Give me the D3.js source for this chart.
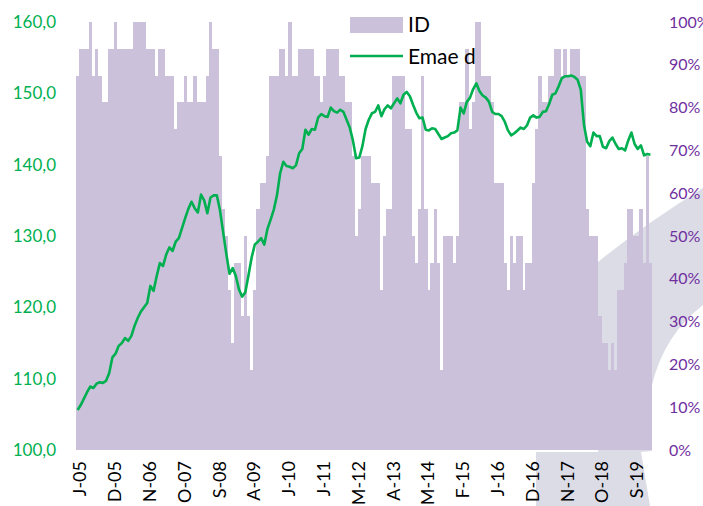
<!DOCTYPE html>
<html><head><meta charset="utf-8">
<script src="https://cdn.jsdelivr.net/npm/d3@7"></script>
<style>html,body{margin:0;padding:0;background:#fff;}svg{display:block;}</style>
</head><body>
<svg id="chart" width="703" height="506"></svg>
<script>
// ---- data ----
const startYear = 2005, startMonth = 0, monthCount = 182;
const tickLabels = ["J-05","D-05","N-06","O-07","S-08","A-09","J-10","J-11","M-12","A-13","M-14","F-15","J-16","D-16","N-17","O-18","S-19"];
const tickEvery = 11;
// ID (diffusion index, %)
const idValues = [
87.5,93.75,93.75,93.75,100,87.5,93.75,87.5,81.25,81.25,
93.75,93.75,100,93.75,93.75,93.75,93.75,93.75,100,100,
100,100,93.75,93.75,93.75,87.5,93.75,93.75,87.5,87.5,
87.5,75,81.25,81.25,87.5,81.25,81.25,87.5,81.25,81.25,
81.25,87.5,100,93.75,93.75,68.75,56.25,50,37.5,25,
43.75,43.75,31.25,50,31.25,18.75,37.5,56.25,62.5,62.5,
68.75,87.5,87.5,87.5,93.75,93.75,87.5,100,87.5,87.5,
93.75,93.75,93.75,93.75,93.75,87.5,87.5,81.25,87.5,93.75,
93.75,93.75,93.75,87.5,87.5,81.25,81.25,68.75,50,56.25,
68.75,68.75,68.75,62.5,62.5,62.5,37.5,50,56.25,56.25,
87.5,87.5,87.5,87.5,75,75,50,43.75,56.25,87.5,
56.25,37.5,43.75,56.25,43.75,18.75,50,50,50,43.75,
50,81.25,81.25,93.75,75,81.25,100,100,87.5,87.5,
87.5,81.25,62.5,62.5,62.5,43.75,37.5,50,43.75,50,
50,37.5,43.75,43.75,62.5,75,87.5,81.25,81.25,87.5,
87.5,93.75,93.75,87.5,93.75,87.5,93.75,93.75,93.75,87.5,
87.5,56.25,50,50,50,31.25,25,25,18.75,25,
18.75,37.5,37.5,43.75,56.25,56.25,50,50,56.25,43.75,
68.75,43.75];
// Emae d (index)
const emaeValues = [
105.6,106.3,107.2,108.1,108.9,108.7,109.3,109.5,109.4,109.7,
110.8,113.0,113.5,114.6,115.0,115.7,115.3,116.0,117.4,118.5,
119.4,120.0,120.6,123.0,122.3,124.4,126.2,125.8,127.4,128.4,
127.9,129.2,129.7,131.1,132.5,133.8,134.8,133.9,133.3,135.8,
135.0,133.2,135.4,135.7,135.7,133.6,130.5,127.5,124.7,125.5,
124.4,122.5,121.5,122.1,124.5,127.0,128.8,129.2,129.7,128.8,
131.0,132.3,133.7,135.7,138.8,140.4,139.8,139.7,139.5,139.9,
141.6,142.2,144.9,144.2,145.0,144.9,146.6,147.1,146.8,146.7,
148.0,147.5,147.3,147.7,147.4,146.3,145.2,143.4,140.9,141.0,
142.6,145.0,146.3,147.2,147.4,148.3,146.8,147.8,148.3,147.9,
148.6,149.3,148.6,149.8,150.2,149.6,148.4,147.3,146.5,146.6,
144.9,144.8,145.1,145.0,144.3,143.6,143.8,144.0,144.4,144.5,
144.8,148.0,147.2,148.8,149.4,150.6,151.4,150.3,149.7,149.4,
148.8,147.4,147.1,147.1,146.8,146.0,144.8,144.1,144.4,144.8,
145.2,145.0,145.5,146.6,146.9,146.6,146.7,147.4,147.5,148.5,
149.8,150.0,151.0,152.1,152.4,152.4,152.5,152.3,151.9,150.5,
145.6,143.2,142.6,144.5,144.0,144.0,142.5,142.3,143.3,143.8,
142.9,142.2,142.3,142.0,143.4,144.5,142.9,142.2,142.7,141.3,
141.5,141.4];
const leftTicks = [100,110,120,130,140,150,160];
const rightTicks = [0,10,20,30,40,50,60,70,80,90,100];
const seriesNames = ["ID","Emae d"];

// ---- build ----
const months = d3.range(monthCount).map(i => {
  const d = new Date(startYear, startMonth + i, 1);
  return d3.timeFormat("%Y-%m")(d);
});
const svg = d3.select("#chart");
const x = d3.scaleBand().domain(months).range([76, 652]).padding(0);
const yL = d3.scaleLinear().domain([100,160]).range([450,22]);
const yR = d3.scaleLinear().domain([0,100]).range([450,22]);
const barColor = "#cbc1db", lineColor = "#00b050";
const font = "Lato, 'Open Sans', sans-serif";

// background gray artifact
svg.append("path")
  .attr("d","M598,262 Q642,226 703,188 L703,305 Q664,335 652,385 L652,451 L641,452 L650,506 L536,506 L536,452 L598,452 Z")
  .attr("fill","#dcdce6");

// bars
svg.append("g").selectAll("rect").data(idValues).join("rect")
  .attr("x",(d,i)=>x(months[i]))
  .attr("width",x.bandwidth()+0.3)
  .attr("y",d=>yR(d))
  .attr("height",d=>yR(0)-yR(d))
  .attr("fill",barColor)
  .attr("shape-rendering","crispEdges");

// line
const line = d3.line().x((d,i)=>x(months[i])+x.bandwidth()/2).y(d=>yL(d)).curve(d3.curveLinear);
svg.append("path").datum(emaeValues).attr("d",line)
  .attr("fill","none").attr("stroke",lineColor).attr("stroke-width",2.6)
  .attr("stroke-linejoin","round");

// left axis
const axL = svg.append("g").attr("transform","translate(56,0)")
  .call(d3.axisLeft(yL).tickValues(leftTicks).tickSize(0).tickPadding(0)
    .tickFormat(d=>d3.format(".1f")(d).replace(".",",")));
axL.select(".domain").remove();
axL.selectAll("text").attr("fill",lineColor).style("font-family",font).style("font-size","17px");

// right axis
const axR = svg.append("g").attr("transform","translate(669,0)")
  .call(d3.axisRight(yR).tickValues(rightTicks).tickSize(0).tickPadding(0).tickFormat(d=>d+"%"));
axR.select(".domain").remove();
axR.selectAll("text").attr("fill","#7030a0").style("font-family",font).style("font-size","16px");

// x labels
const tickIdx = tickLabels.map((t,k)=>k*tickEvery);
const axX = svg.append("g").attr("transform","translate(0,461)")
  .call(d3.axisBottom(x).tickValues(tickIdx.map(i=>months[i])).tickSize(0).tickPadding(0)
    .tickFormat((d)=>tickLabels[tickIdx.indexOf(months.indexOf(d))]));
axX.select(".domain").remove();
axX.selectAll("text")
  .attr("transform","translate(2.4,0) rotate(-90)")
  .attr("x",0).attr("y",0).attr("dy","0.35em")
  .attr("text-anchor","end")
  .attr("fill","#000").style("font-family",font).style("font-size","18px");

// legend
const lg = svg.append("g");
lg.append("rect").attr("x",350).attr("y",17).attr("width",53).attr("height",16).attr("fill",barColor);
lg.append("text").attr("x",408).attr("y",25).attr("dy","0.35em").text(seriesNames[0])
  .style("font-family",font).style("font-size","21px").attr("fill","#000");
lg.append("line").attr("x1",350).attr("x2",403).attr("y1",56).attr("y2",56)
  .attr("stroke",lineColor).attr("stroke-width",2.6);
lg.append("text").attr("x",408).attr("y",57).attr("dy","0.35em").text(seriesNames[1])
  .style("font-family",font).style("font-size","21px").attr("fill","#000");
</script>
</body></html>
